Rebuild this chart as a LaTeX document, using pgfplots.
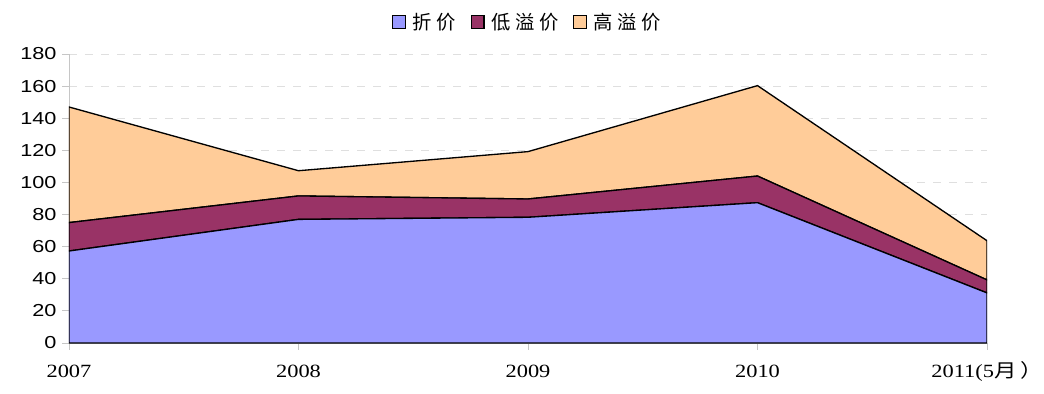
\documentclass[border=0pt]{standalone}
\usepackage{pgfplots}
\pgfplotsset{compat=1.18}
\usepackage{fontspec}
\setmainfont{Liberation Serif}
\newfontfamily\sans{Liberation Sans}
\newfontfamily\cjk{Noto Sans CJK SC}
\newfontfamily\cjkleg[LetterSpace=24]{Noto Sans CJK SC}
\definecolor{cA}{HTML}{9999FF}
\definecolor{cB}{HTML}{993366}
\definecolor{cC}{HTML}{FFCC99}
\begin{document}
\begin{tikzpicture}
\begin{axis}[
 scale only axis, width=688.5pt, height=216.75pt,
 xmin=0, xmax=4, ymin=0, ymax=180,
 stack plots=y,
 /pgf/number format/assume math mode=true,
 axis x line=bottom, axis y line=left,
 axis line style={draw=gray!45, -},
 xtick={0,...,4}, xticklabels={2007,2008,2009,2010,{2011(5{\cjk 月\,）}}},
 ytick={0,20,...,180},
 tick align=outside, major tick length=5pt, tick style={gray!45, line width=0.6pt},
 ymajorgrids, grid style={gray!25, dash pattern=on 6pt off 6pt},
 yticklabel style={font=\sans\fontsize{13}{13}\selectfont, xscale=1.25},
 xticklabel style={font=\fontsize{14}{14}\selectfont, xscale=1.2, text height=10pt, text depth=3pt, yshift=-7pt},
 legend style={at={(0.5,1.11)}, anchor=center, draw=none, font=\cjkleg\fontsize{14.5}{14.5}\selectfont, legend columns=-1,
   /tikz/every odd column/.append style={column sep=3pt},
   /tikz/every even column/.append style={column sep=9pt}},
 legend image code/.code={\draw[#1, draw=black, line width=0.9pt] (0pt,-4.5pt) rectangle (9.5pt,5pt);},
]
\addplot[fill=cA, draw=black, line width=1pt] coordinates {(0,57.3)(1,77)(2,78.3)(3,87.4)(4,31.2)} \closedcycle;
\addlegendentry{折价}
\addplot[fill=cB, draw=black, line width=1pt] coordinates {(0,17.7)(1,14.6)(2,11.4)(3,16.6)(4,8.1)} \closedcycle;
\addlegendentry{低溢价}
\addplot[fill=cC, draw=black, line width=1pt] coordinates {(0,72)(1,15.7)(2,29.5)(3,56.3)(4,24.4)} \closedcycle;
\addlegendentry{高溢价}
\end{axis}
\pgfresetboundingbox
\path[use as bounding box] (-51.75pt,-37.5pt) rectangle (731.25pt,257.25pt);
\end{tikzpicture}
\end{document}
